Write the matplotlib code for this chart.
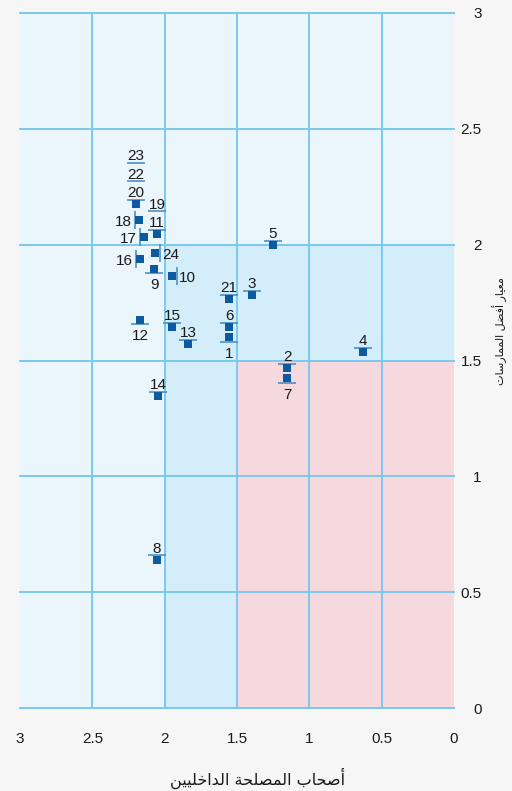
import matplotlib
matplotlib.use("Agg")
import matplotlib.pyplot as plt
from matplotlib.transforms import offset_copy

plt.rcParams['font.family'] = ['Liberation Sans', 'DejaVu Sans']

# ---------------- data ----------------
point_ids = [1, 2, 3, 4, 5, 6, 7, 8, 9, 10, 11, 12,
             13, 14, 15, 16, 17, 18, 19, 20, 21, 22, 23, 24]
internal_stakeholders = [1.555, 1.154, 1.396, 0.629, 1.251, 1.555, 1.154, 2.053,
                         2.073, 1.949, 2.053, 2.170, 1.838, 2.046, 1.949, 2.170,
                         2.142, 2.177, 2.053, 2.198, 1.555, 2.198, 2.198, 2.066]
best_practice = [1.601, 1.467, 1.782, 1.536, 1.998, 1.644, 1.424, 0.639,
                 1.895, 1.864, 2.046, 1.675, 1.571, 1.346, 1.644, 1.938,
                 2.033, 2.106, 2.046, 2.175, 1.765, 2.175, 2.175, 1.964]
label_side = ['bottom', 'top', 'top', 'top', 'top', 'top', 'bottom', 'top',
              'bottom', 'right', 'top', 'bottom', 'top', 'top', 'top', 'left',
              'left', 'left', 'top', 'top', 'top', 'top', 'top', 'right']
x_ticks = [3, 2.5, 2, 1.5, 1, 0.5, 0]
x_tick_labels = ['3', '2.5', '2', '1.5', '1', '0.5', '0']
y_ticks = [0, 0.5, 1, 1.5, 2, 2.5, 3]
y_tick_labels = ['0', '0.5', '1', '1.5', '2', '2.5', '3']
x_title = 'أصحاب المصلحة الداخليين'
y_title = 'معيار أفضل الممارسات'
x_threshold_low, x_threshold_high = 1.5, 2.0
y_threshold_low, y_threshold_high = 1.5, 2.0

# ---------------- minimal Arabic shaping ----------------
FORMS = {  # isolated, final, initial, medial
    'ا': ('\uFE8D', '\uFE8E', None, None),
    'أ': ('\uFE83', '\uFE84', None, None),
    'ب': ('\uFE8F', '\uFE90', '\uFE91', '\uFE92'),
    'ة': ('\uFE93', '\uFE94', None, None),
    'ت': ('\uFE95', '\uFE96', '\uFE97', '\uFE98'),
    'ح': ('\uFEA1', '\uFEA2', '\uFEA3', '\uFEA4'),
    'خ': ('\uFEA5', '\uFEA6', '\uFEA7', '\uFEA8'),
    'د': ('\uFEA9', '\uFEAA', None, None),
    'ر': ('\uFEAD', '\uFEAE', None, None),
    'س': ('\uFEB1', '\uFEB2', '\uFEB3', '\uFEB4'),
    'ص': ('\uFEB9', '\uFEBA', '\uFEBB', '\uFEBC'),
    'ض': ('\uFEBD', '\uFEBE', '\uFEBF', '\uFEC0'),
    'ع': ('\uFEC9', '\uFECA', '\uFECB', '\uFECC'),
    'ف': ('\uFED1', '\uFED2', '\uFED3', '\uFED4'),
    'ل': ('\uFEDD', '\uFEDE', '\uFEDF', '\uFEE0'),
    'م': ('\uFEE1', '\uFEE2', '\uFEE3', '\uFEE4'),
    'ن': ('\uFEE5', '\uFEE6', '\uFEE7', '\uFEE8'),
    'ي': ('\uFEF1', '\uFEF2', '\uFEF3', '\uFEF4'),
}


def dual(c):
    return c in FORMS and FORMS[c][2] is not None


def shape(text):
    out = []
    n = len(text)
    for i, c in enumerate(text):
        if c not in FORMS:
            out.append(c)
            continue
        prev_join = i > 0 and dual(text[i - 1])
        next_join = dual(c) and i + 1 < n and text[i + 1] in FORMS
        iso, fin, ini, med = FORMS[c]
        if prev_join and next_join:
            out.append(med)
        elif prev_join:
            out.append(fin)
        elif next_join:
            out.append(ini)
        else:
            out.append(iso)
    return ''.join(reversed(out))


# ---------------- styling ----------------
FIG_BG = '#f6f6f6'
LIGHT = '#eaf5fc'
MEDIUM = '#d3eefa'
PINK = '#f6d9df'
GRID = '#7cc8ee'
MARK = '#0d5aa0'
TICKLINE = '#3f88c5'
TXT = '#1a1a1a'

W, H, DPI = 512, 791, 100
fig = plt.figure(figsize=(W / DPI, H / DPI), dpi=DPI, facecolor=FIG_BG)
ax = fig.add_axes([20 / W, 1 - 708 / H, 434 / W, 695 / H])
ax.set_xlim(3, 0)
ax.set_ylim(0, 3)
ax.set_facecolor(LIGHT)
for s in ax.spines.values():
    s.set_visible(False)

# shaded regions
ax.fill_between([x_threshold_low, x_threshold_high], 0, y_threshold_high,
                color=MEDIUM, lw=0, zorder=0.5)
ax.fill_between([0, x_threshold_low], y_threshold_low, y_threshold_high,
                color=MEDIUM, lw=0, zorder=0.5)
ax.fill_between([0, x_threshold_low], 0, y_threshold_low,
                color=PINK, lw=0, zorder=0.5)

# grid
for xv in x_ticks[1:-1]:
    ax.axvline(xv, color=GRID, lw=1.4, zorder=1)
for yv in y_ticks:
    ax.axhline(yv, color=GRID, lw=1.4, zorder=1, clip_on=False)

# ticks
ax.set_xticks(x_ticks)
ax.set_xticklabels(x_tick_labels)
ax.set_yticks(y_ticks)
ax.set_yticklabels(y_tick_labels)
ax.yaxis.tick_right()
ax.tick_params(axis='both', length=0, labelsize=11, colors=TXT)
ax.tick_params(axis='x', pad=17)
ax.tick_params(axis='y', pad=20)
for lab in ax.get_yticklabels():
    lab.set_horizontalalignment('right')

# axis titles
fig.text(258 / W, 1 - 778 / H, shape(x_title), fontsize=11.5, color=TXT,
         family=['DejaVu Sans'], ha='center', va='center')
fig.text(500 / W, 1 - 331 / H, shape(y_title), fontsize=8, color=TXT,
         family=['DejaVu Sans'], ha='center', va='center', rotation=90)

# markers
ax.scatter(internal_stakeholders, best_practice, marker='s', s=5.8 ** 2,
           color=MARK, lw=0, zorder=4)

# labels with separator lines
px = 72 / DPI
FS = 11
seen = {}
for pid, xv, yv, side in zip(point_ids, internal_stakeholders, best_practice, label_side):
    key = (xv, yv, side)
    k = seen.get(key, 0)
    seen[key] = k + 1
    if side == 'top':
        off = 4.5 + 18.5 * k
        tr = offset_copy(ax.transData, fig=fig, x=0, y=off, units='dots')
        ax.plot([xv], [yv], marker='_', ms=13.5, mew=1.1, color=TICKLINE,
                transform=tr, zorder=3)
        ax.annotate(str(pid), (xv, yv), xytext=(0, (off + 2.5) * px),
                    textcoords='offset points', ha='center', va='baseline',
                    fontsize=FS, color=TXT, zorder=5)
    elif side == 'bottom':
        tr = offset_copy(ax.transData, fig=fig, x=0, y=-4.5, units='dots')
        ax.plot([xv], [yv], marker='_', ms=13.5, mew=1.1, color=TICKLINE,
                transform=tr, zorder=3)
        ax.annotate(str(pid), (xv, yv), xytext=(0, -20.5 * px),
                    textcoords='offset points', ha='center', va='baseline',
                    fontsize=FS, color=TXT, zorder=5)
    else:
        sgn = 1 if side == 'right' else -1
        tr = offset_copy(ax.transData, fig=fig, x=sgn * 4.5, y=0, units='dots')
        ax.plot([xv], [yv], marker='|', ms=13.5, mew=1.1, color=TICKLINE,
                transform=tr, zorder=3)
        ax.annotate(str(pid), (xv, yv), xytext=(sgn * 7 * px, -5.5 * px),
                    textcoords='offset points',
                    ha='left' if sgn > 0 else 'right', va='baseline',
                    fontsize=FS, color=TXT, zorder=5)

fig.savefig('out.png', dpi=DPI, facecolor=FIG_BG)
